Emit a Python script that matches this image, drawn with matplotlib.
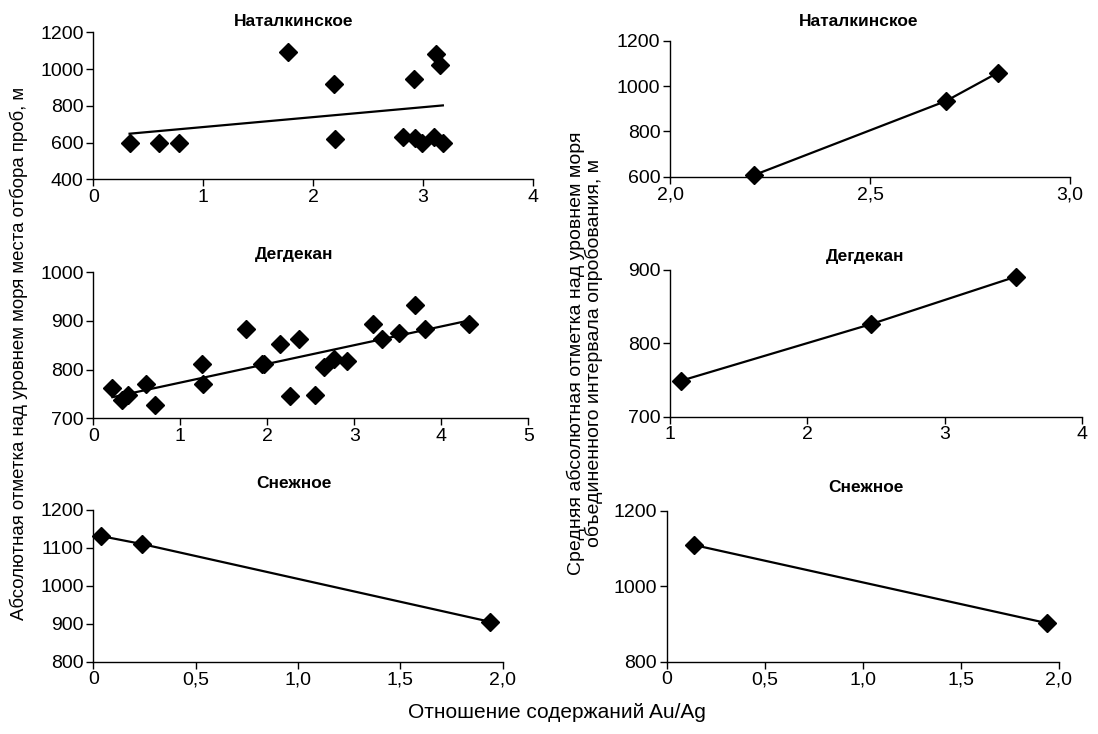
import numpy as np
from matplotlib import pyplot as plt

plt.rcParams['font.family'] = ['Liberation Sans', 'DejaVu Sans']

# individual samples (left column)
nat_x = [0.33, 0.60, 0.78, 1.77, 2.19, 2.20, 2.82, 2.92, 2.93, 2.99, 3.10, 3.12, 3.15, 3.18]
nat_y = [600, 600, 600, 1091, 920, 618, 628, 946, 623, 600, 628, 1080, 1024, 600]

deg_x = [0.22, 0.33, 0.40, 0.60, 0.71, 1.25, 1.26, 1.76, 1.94, 1.96, 2.15, 2.26, 2.36,
         2.55, 2.65, 2.77, 2.92, 3.21, 3.32, 3.51, 3.70, 3.81, 4.32]
deg_y = [762, 738, 748, 770, 727, 812, 771, 883, 812, 811, 852, 745, 862,
         747, 805, 821, 818, 893, 862, 876, 933, 883, 893]

sn_x = [0.04, 0.24, 1.94]
sn_y = [1131, 1110, 905]

# averaged intervals (right column)
nat_avg_x = [2.21, 2.69, 2.82]
nat_avg_y = [607, 934, 1059]
deg_avg_x = [1.08, 2.46, 3.52]
deg_avg_y = [749, 826, 891]
sn_avg_x = [0.14, 1.94]
sn_avg_y = [1109, 902]

titles = ['Наталкинское', 'Дегдекан', 'Снежное']
ylabel_left = 'Абсолютная отметка над уровнем моря места отбора проб, м'
ylabel_right = 'Средняя абсолютная отметка над уровнем моря\nобъединенного интервала опробования, м'
xlabel = 'Отношение содержаний Au/Ag'

W, H = 1098, 734
fig = plt.figure(figsize=(W / 100, H / 100), dpi=100)


def add_ax(l, r, t, b):
    return fig.add_axes([l / W, (H - b) / H, (r - l) / W, (b - t) / H])


def style(ax, xlim, xticks, xlabels, ylim, yticks):
    ax.set_xlim(xlim)
    ax.set_ylim(ylim)
    ax.set_xticks(xticks)
    ax.set_xticklabels(xlabels)
    ax.set_yticks(yticks)
    ax.spines['top'].set_visible(False)
    ax.spines['right'].set_visible(False)
    for s in ('left', 'bottom'):
        ax.spines[s].set_linewidth(1.0)
    ax.tick_params(direction='out', length=5, width=1.0, labelsize=14, pad=2)
    ax.patch.set_alpha(0)


mk = dict(marker='D', markersize=9, color='black', linestyle='none', clip_on=False, zorder=3)
ln = dict(color='black', linewidth=1.6, clip_on=False)

# left column: scatter + linear trend
axes_left = [add_ax(93.3, 533, 32.3, 179.3),
             add_ax(93.3, 528.3, 272.3, 418.3),
             add_ax(93.3, 502.7, 510, 661.7)]
data_left = [(nat_x, nat_y), (deg_x, deg_y)]
for ax, (x, y) in zip(axes_left[:2], data_left):
    k, b = np.polyfit(x, y, 1)
    xt = np.array([min(x), max(x)])
    ax.plot(xt, k * xt + b, **ln)
    ax.plot(x, y, **mk)
axes_left[2].plot(sn_x, sn_y, **ln)
axes_left[2].plot(sn_x, sn_y, **mk)

style(axes_left[0], (0, 4), [0, 1, 2, 3, 4], ['0', '1', '2', '3', '4'], (400, 1200), [400, 600, 800, 1000, 1200])
style(axes_left[1], (0, 5), [0, 1, 2, 3, 4, 5], ['0', '1', '2', '3', '4', '5'], (700, 1000), [700, 800, 900, 1000])
style(axes_left[2], (0, 2), [0, 0.5, 1, 1.5, 2], ['0', '0,5', '1,0', '1,5', '2,0'], (800, 1200), [800, 900, 1000, 1100, 1200])

# right column: averages connected
axes_right = [add_ax(670, 1070, 40.7, 176.7),
              add_ax(670, 1082, 270, 416.7),
              add_ax(666.7, 1059, 510.7, 661.7)]
data_right = [(nat_avg_x, nat_avg_y), (deg_avg_x, deg_avg_y), (sn_avg_x, sn_avg_y)]
for ax, (x, y) in zip(axes_right, data_right):
    ax.plot(x, y, **ln)
    ax.plot(x, y, **mk)

style(axes_right[0], (2, 3), [2, 2.5, 3], ['2,0', '2,5', '3,0'], (600, 1200), [600, 800, 1000, 1200])
style(axes_right[1], (1, 4), [1, 2, 3, 4], ['1', '2', '3', '4'], (700, 900), [700, 800, 900])
style(axes_right[2], (0, 2), [0, 0.5, 1, 1.5, 2], ['0', '0,5', '1,0', '1,5', '2,0'], (800, 1200), [800, 1000, 1200])

# titles
for t, y in zip(titles, [22, 255, 483]):
    fig.text(294 / W, 1 - y / H, t, ha='center', va='center', fontsize=12.5, fontweight='bold')
for t, x, y in zip(titles, [859, 865, 866], [22, 257, 487]):
    fig.text(x / W, 1 - y / H, t, ha='center', va='center', fontsize=12.5, fontweight='bold')

fig.text(19 / W, 1 - 353 / H, ylabel_left, rotation=90, ha='center', va='center', fontsize=13.4)
fig.text(585 / W, 1 - 353 / H, ylabel_right, rotation=90, ha='center', va='center',
         fontsize=14, linespacing=1.0, multialignment='center')
fig.text(557 / W, 1 - 712 / H, xlabel, ha='center', va='center', fontsize=15)

plt.savefig('out.png', dpi=100)
